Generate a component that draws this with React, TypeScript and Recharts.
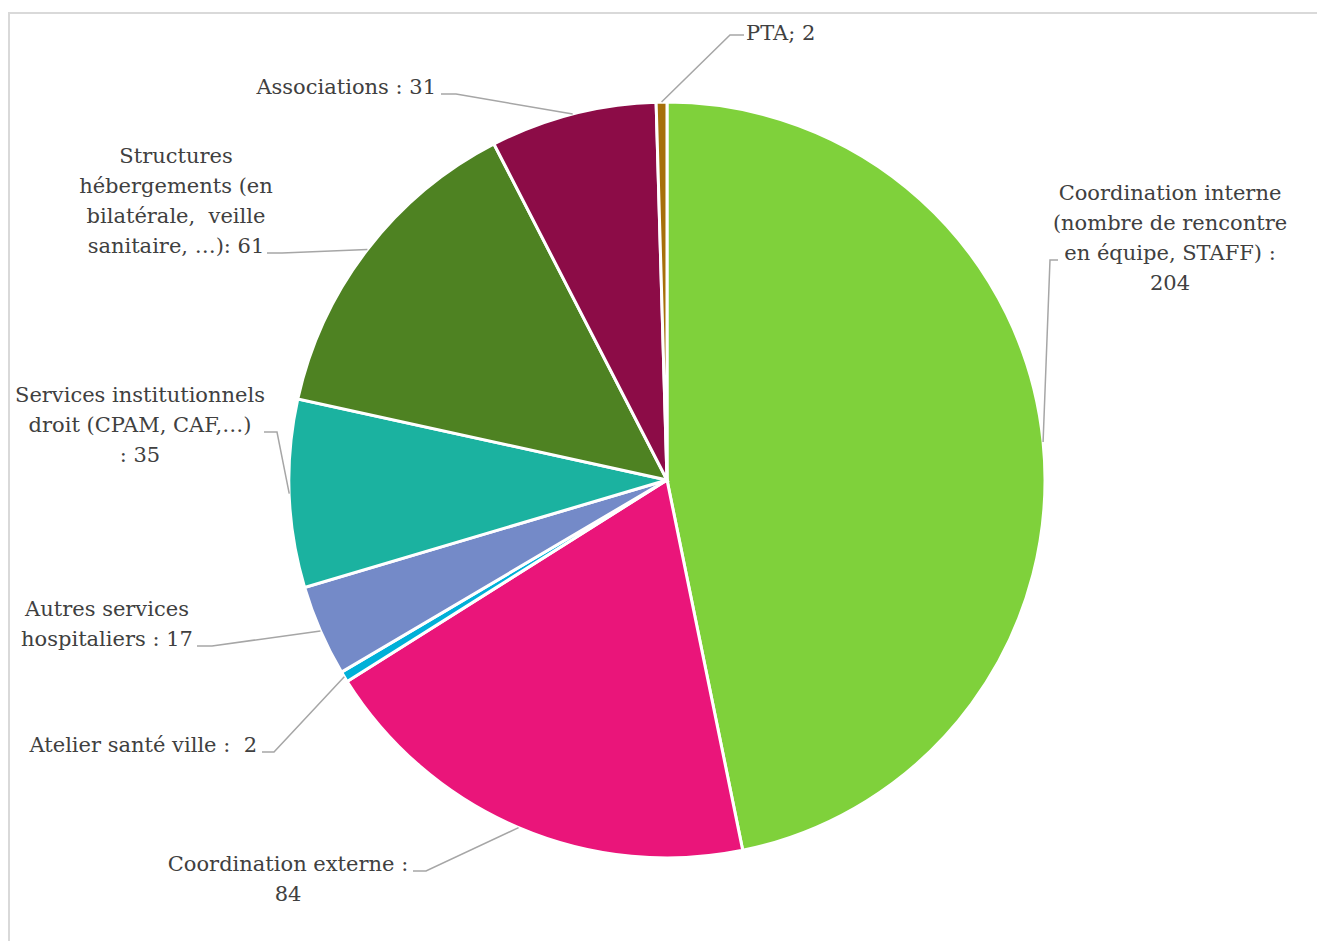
import React from 'react';
import { PieChart, Pie, Cell } from 'recharts';

const categories = [
  'Coordination interne',
  'Coordination externe',
  'Atelier santé ville',
  'Autres services hospitaliers',
  'Services institutionnels droit',
  'Structures hébergements',
  'Associations',
  'PTA',
];
const values = [204, 84, 2, 17, 35, 61, 31, 2];
const colors = ['#7FD13B', '#EA157A', '#00B0D8', '#748AC8', '#1BB2A0', '#4E8222', '#8C0C47', '#A6700A'];
const labelTexts = [
  ['Coordination interne', '(nombre de rencontre', 'en équipe, STAFF) :', '{v}'],
  ['Coordination externe :', '{v}'],
  ['Atelier santé ville :  {v}'],
  ['Autres services', 'hospitaliers : {v}'],
  ['Services institutionnels', 'droit (CPAM, CAF,…)', ': {v}'],
  ['Structures', 'hébergements (en', 'bilatérale,  veille', 'sanitaire, …): {v}'],
  ['Associations : {v}'],
  ['PTA; {v}'],
];

// label layout (positions of text blocks and leader elbows)
const labelLayout = [
  { x: 1170, y: 200, anchor: 'middle', leader: [[1058, 260], [1050, 260]] },
  { x: 288, y: 871, anchor: 'middle', leader: [[413, 871], [426, 871]] },
  { x: 257, y: 752, anchor: 'end', leader: [[262, 752], [274, 752]] },
  { x: 107, y: 616, anchor: 'middle', leader: [[197, 646], [212, 646]] },
  { x: 140, y: 402, anchor: 'middle', leader: [[264, 432], [277, 432]] },
  { x: 176, y: 163, anchor: 'middle', leader: [[267, 253], [282, 253]] },
  { x: 436, y: 94, anchor: 'end', leader: [[441, 94], [456, 94]] },
  { x: 746, y: 40, anchor: 'start', leader: [[744, 35], [730, 35]] },
];

const data = categories.map((name, i) => ({ name, value: values[i] }));

const RADIAN = Math.PI / 180;
const FONT = '"DejaVu Serif", serif';

const renderLabel = (props: any) => {
  const { cx, cy, midAngle, outerRadius, index, value } = props;
  const layout = labelLayout[index];
  const px = cx + outerRadius * Math.cos(-midAngle * RADIAN);
  const py = cy + outerRadius * Math.sin(-midAngle * RADIAN);
  const pts = [...layout.leader, [px, py]].map((p) => p.join(',')).join(' ');
  const lines = labelTexts[index].map((t) => t.replace('{v}', String(value)));
  return (
    <g key={`lbl-${index}`}>
      <polyline points={pts} fill="none" stroke="#A6A6A6" strokeWidth={1.5} />
      <text
        x={layout.x}
        y={layout.y}
        textAnchor={layout.anchor as any}
        fill="#404040"
        fontFamily={FONT}
        fontSize={21}
        style={{ whiteSpace: 'pre' }}
      >
        {lines.map((l, j) => (
          <tspan key={j} x={layout.x} y={layout.y + j * 30}>
            {l}
          </tspan>
        ))}
      </text>
    </g>
  );
};

export default function App() {
  return (
    <div
      style={{
        position: 'absolute',
        left: 0,
        top: 0,
        width: 1317,
        height: 941,
        overflow: 'hidden',
        background: '#fff',
      }}
    >
      <div
        style={{
          position: 'absolute',
          left: 8,
          top: 12,
          width: 1400,
          height: 1000,
          border: '2px solid #D9D9D9',
          boxSizing: 'border-box',
        }}
      />
      <div style={{ position: 'absolute', left: 0, top: 0 }}>
        <PieChart width={1317} height={941} margin={{ top: 0, right: 0, bottom: 0, left: 0 }}>
          <Pie
            data={data}
            dataKey="value"
            nameKey="name"
            cx={667}
            cy={480}
            outerRadius={378}
            startAngle={90}
            endAngle={-270}
            stroke="#FFFFFF"
            strokeWidth={3}
            label={renderLabel}
            labelLine={false}
            isAnimationActive={false}
          >
            {data.map((d, i) => (
              <Cell key={d.name} fill={colors[i]} />
            ))}
          </Pie>
        </PieChart>
      </div>
    </div>
  );
}
